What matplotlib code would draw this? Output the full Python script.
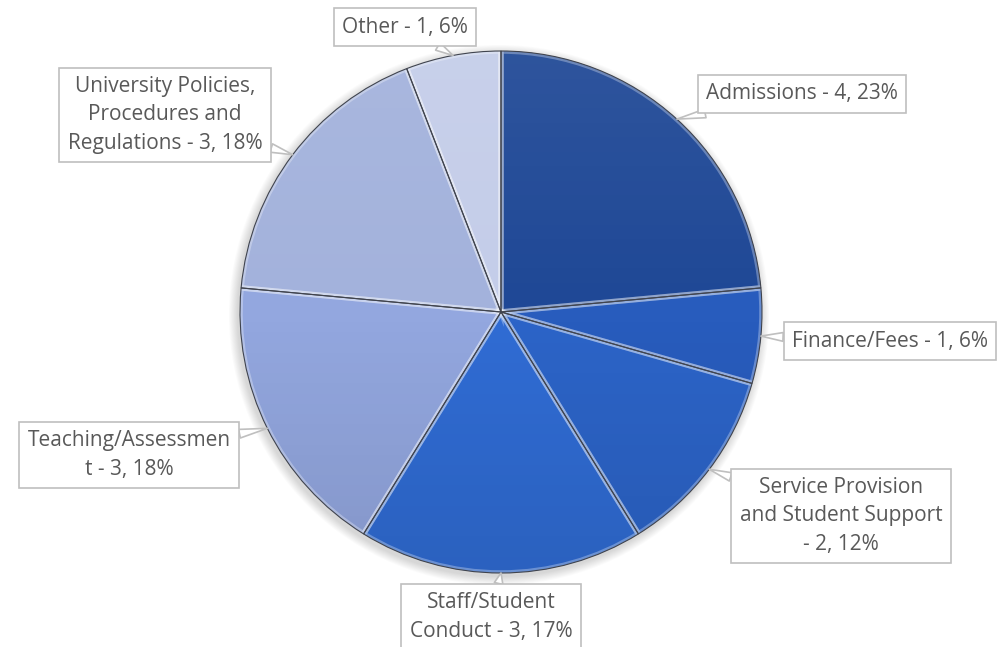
import numpy as np
import matplotlib
matplotlib.use("Agg")
import matplotlib.pyplot as plt
from matplotlib.patches import Circle, Wedge

# Complaint categories (wrapped as shown in the callouts)
categories = [
    "Admissions",
    "Finance/Fees",
    "Service Provision\nand Student Support",
    "Staff/Student\nConduct",
    "Teaching/Assessmen\nt",
    "University Policies,\nProcedures and\nRegulations",
    "Other",
]
counts = [4, 1, 2, 3, 3, 3, 1]
percents = [23, 6, 12, 17, 18, 18, 6]
separators = [" ", " ", "\n", " ", " ", " ", " "]

colors = ["#1F4896", "#285CBD", "#2C64C8", "#306CD4",
          "#93A7DF", "#A3B2DC", "#C4CDE9"]

# Callout box centres in pixel space (y measured from the top)
label_pos = [(802, 94), (890, 341), (841, 516), (491, 617),
             (129, 455), (165, 115), (405, 27)]

W, H = 1007, 647
fig = plt.figure(figsize=(W / 100, H / 100), dpi=100)
ax = fig.add_axes([0, 0, 1, 1])

cx, cy, r = 501, H - 312, 261

# soft drop shadow under the pie
for i in range(10):
    ax.add_patch(Circle((cx - 2, cy - 3), r + 1 + i * 0.9, color="black",
                        alpha=0.016, lw=0, zorder=0))

wedges, _ = ax.pie(counts, colors=colors, startangle=90, counterclock=False,
                   center=(cx, cy), radius=r,
                   wedgeprops=dict(linewidth=0, zorder=1))

# gentle vertical light-to-dark shading across the pie
n = 256
t = np.linspace(0, 1, n)[:, None]
shade = np.zeros((n, 2, 4))
top_alpha = np.clip(0.07 * (1 - 2 * t), 0, None)
bot_alpha = np.clip(0.10 * (2 * t - 1), 0, None)
shade[..., :3] = np.where(t[..., None] < 0.5, 1.0, 0.0)
shade[..., 3] = (top_alpha + bot_alpha)
clip = Circle((cx, cy), r, transform=ax.transData)
im = ax.imshow(shade, extent=(cx - r, cx + r, cy - r, cy + r),
               origin="upper", interpolation="bilinear", zorder=2,
               aspect="auto")
im.set_clip_path(clip)

# bevel: light band along each wedge edge, dark seam on top
for w in wedges:
    hl = Wedge((cx, cy), r, w.theta1, w.theta2, fill=False,
               ec=(1, 1, 1, 0.30), lw=4, zorder=3)
    hl.set_clip_path(Circle((cx, cy), r, transform=ax.transData))
    ax.add_patch(hl)
    ax.add_patch(Wedge((cx, cy), r, w.theta1, w.theta2, fill=False,
                       ec="#40444E", lw=0.8, zorder=4))

# callout labels
for w, name, sep, c, p, (lx, ly) in zip(wedges, categories, separators,
                                         counts, percents, label_pos):
    mid = np.deg2rad((w.theta1 + w.theta2) / 2)
    px, py = cx + r * np.cos(mid), cy + r * np.sin(mid)
    ax.annotate(
        f"{name}{sep}- {c}, {p}%", xy=(px, py), xytext=(lx, H - ly),
        ha="center", va="center", fontsize=15, color="#595959",
        family="Open Sans", multialignment="center", linespacing=1.45,
        bbox=dict(boxstyle="square,pad=0.4", fc="white", ec="#BFBFBF", lw=1.2),
        arrowprops=dict(arrowstyle="wedge,tail_width=0.42", fc="white",
                        ec="#BFBFBF", lw=1.2, shrinkA=0, shrinkB=0),
        zorder=5, annotation_clip=False,
    )

ax.set_xlim(0, W)
ax.set_ylim(0, H)
ax.axis("off")
fig.savefig("out.png", dpi=100, facecolor="white")
